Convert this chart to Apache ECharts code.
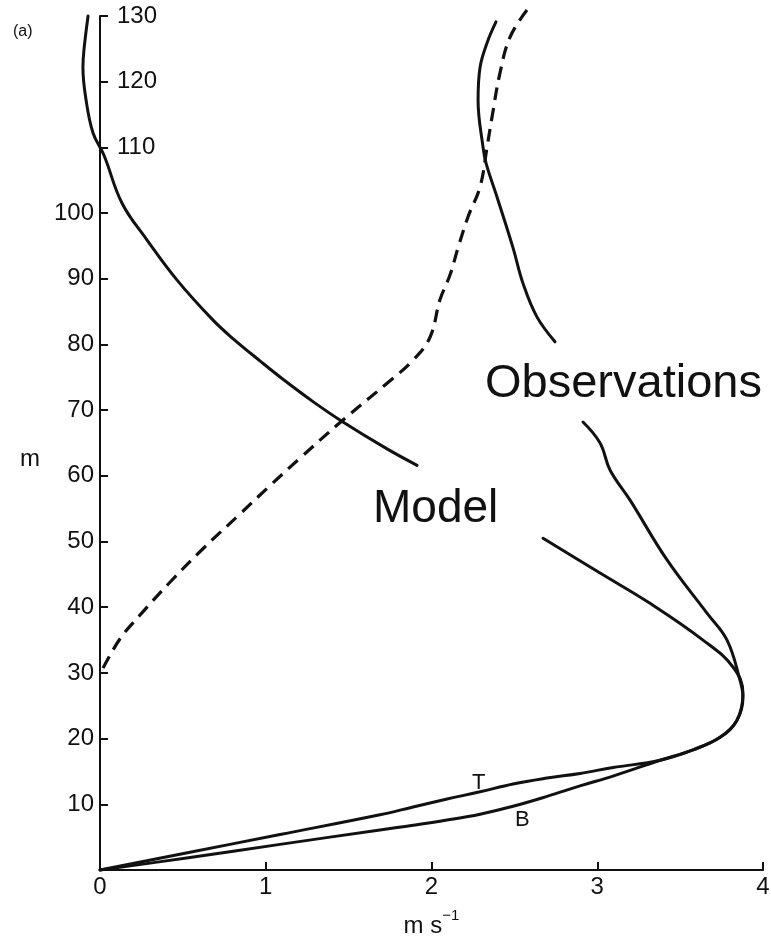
<!DOCTYPE html>
<html>
<head>
<meta charset="utf-8">
<script src="https://cdn.jsdelivr.net/npm/echarts@6/dist/echarts.min.js"></script>
<style>
html, body { margin: 0; padding: 0; background: #ffffff; overflow: hidden; }
#chart { width: 771px; height: 937px; }
</style>
</head>
<body>
<div id="chart"></div>
<script>
// Axis ticks
const xTickValues = [0, 1, 2, 3, 4];
const yLabelsLeft = [10, 20, 30, 40, 50, 60, 70, 80, 90, 100];
const yLabelsRight = [110, 120, 130];

// Model curve [speed m/s, height m] — split where the "Model" label interrupts it
const modelUpper = [
  [-0.072, 130.0], [-0.097, 124.8], [-0.103, 122.2], [-0.084, 117.2], [-0.042, 112.2],
  [0.024, 108.8], [0.133, 101.5], [0.284, 95.9], [0.465, 89.8], [0.682, 83.7],
  [0.802, 80.9], [0.965, 77.5], [1.104, 74.7], [1.285, 71.3], [1.466, 68.2],
  [1.732, 64.1], [1.913, 61.6]
];
const modelLower = [
  [2.673, 50.5], [3.017, 45.2], [3.318, 40.6], [3.638, 35.0], [3.819, 30.9],
  [3.879, 26.9], [3.843, 22.8], [3.741, 20.2], [3.578, 18.3], [3.379, 16.7],
  [3.095, 14.3], [2.896, 12.8], [2.697, 11.2], [2.492, 9.7], [2.293, 8.5],
  [2.094, 7.6], [1.889, 6.8], [1.689, 6.1], [1.086, 3.9], [0.543, 1.9], [0.000, 0.0]
];

// Observations curve — split where the "Observations" label interrupts it
const obsUpper = [
  [2.389, 129.1], [2.335, 125.9], [2.293, 122.2], [2.281, 117.2], [2.311, 110.0],
  [2.329, 107.6], [2.401, 102.0], [2.492, 94.7], [2.552, 89.3], [2.636, 84.2],
  [2.745, 80.4]
];
const obsLower = [
  [2.914, 68.2], [3.017, 65.0], [3.077, 60.9], [3.198, 56.3], [3.421, 47.2],
  [3.662, 39.1], [3.783, 35.0], [3.861, 28.9], [3.879, 26.3], [3.843, 22.8],
  [3.741, 20.2], [3.578, 18.3], [3.379, 16.7], [3.095, 15.6], [2.896, 14.7],
  [2.697, 14.0], [2.492, 13.1], [2.293, 11.9], [2.094, 10.8], [1.889, 9.6],
  [1.689, 8.4], [1.086, 5.4], [0.543, 2.7], [0.000, 0.0]
];

// Dashed curve
const dashedCurve = [
  [2.576, 130.9], [2.474, 126.8], [2.413, 121.3], [2.365, 114.6], [2.335, 110.0],
  [2.293, 104.0], [2.220, 99.4], [2.160, 94.7], [2.112, 90.6], [2.051, 86.8],
  [1.991, 81.1], [1.888, 77.6], [1.732, 74.1], [1.466, 68.5], [1.207, 62.7],
  [1.008, 58.1], [0.845, 54.2], [0.621, 48.9], [0.422, 43.8], [0.241, 38.8],
  [0.121, 35.2], [0.018, 30.7]
];

const FONT = 'Liberation Sans, Arial, Helvetica, sans-serif';
const INK = '#111111';

const chart = echarts.init(document.getElementById('chart'), null, { renderer: 'canvas' });

function solid(name, data) {
  return {
    name: name, type: 'line', data: data, symbol: 'none', smooth: 0.4,
    xAxisIndex: 1, yAxisIndex: 2, clip: false, silent: true,
    lineStyle: { color: INK, width: 3, type: 'solid', cap: 'round', join: 'round' }
  };
}

// Plot grid (visible axes) spans 0..4; a data grid extends slightly left of the
// y axis (to -0.2) so the Model curve can bend past the axis near the top.
const PLOT_LEFT = 100, PLOT_RIGHT = 8, PLOT_TOP = 16, PLOT_BOTTOM = 67;
const X_MIN_DATA = -0.2;
const unitPx = (771 - PLOT_LEFT - PLOT_RIGHT) / 4;

const option = {
  animation: false,
  backgroundColor: '#ffffff',
  title: {
    text: '(a)', left: 8, top: 19,
    textStyle: { fontFamily: FONT, fontSize: 16, fontWeight: 'normal', color: INK }
  },
  grid: [
    { left: PLOT_LEFT, right: PLOT_RIGHT, top: PLOT_TOP, bottom: PLOT_BOTTOM,
      containLabel: false, outerBoundsMode: 'none' },
    { left: PLOT_LEFT + X_MIN_DATA * unitPx, right: PLOT_RIGHT, top: PLOT_TOP, bottom: PLOT_BOTTOM,
      containLabel: false, outerBoundsMode: 'none' }
  ],
  xAxis: [
    {
      gridIndex: 0, type: 'value', min: 0, max: 4, interval: 1,
      axisLine: { show: true, onZero: false, lineStyle: { color: INK, width: 2 } },
      axisTick: { show: true, inside: true, length: 8, lineStyle: { color: INK, width: 2 } },
      axisLabel: {
        fontFamily: FONT, fontSize: 24, color: INK, margin: 5,
        showMinLabel: true, showMaxLabel: true,
        formatter: function (v) { return xTickValues.indexOf(v) >= 0 ? String(v) : ''; }
      },
      splitLine: { show: false },
      name: '{a|m s}{b|−1}',
      nameLocation: 'middle', nameGap: 38,
      nameTextStyle: {
        fontFamily: FONT, color: INK,
        rich: {
          a: { fontFamily: FONT, fontSize: 24, color: INK, lineHeight: 30, verticalAlign: 'bottom' },
          b: { fontFamily: FONT, fontSize: 15, color: INK, lineHeight: 30, verticalAlign: 'top' }
        }
      }
    },
    {
      gridIndex: 1, type: 'value', min: X_MIN_DATA, max: 4,
      show: false, axisLine: { show: false }, axisTick: { show: false },
      axisLabel: { show: false }, splitLine: { show: false }
    }
  ],
  yAxis: [
    {
      gridIndex: 0, type: 'value', min: 0, max: 130, interval: 10,
      axisLine: { show: true, onZero: false, lineStyle: { color: INK, width: 2 } },
      axisTick: { show: true, inside: true, length: 8, lineStyle: { color: INK, width: 2 } },
      axisLabel: {
        fontFamily: FONT, fontSize: 24, color: INK, margin: 6,
        formatter: function (v) { return yLabelsLeft.indexOf(v) >= 0 ? String(v) : ''; }
      },
      splitLine: { show: false }
    },
    {
      gridIndex: 0, type: 'value', min: 0, max: 130, interval: 10, position: 'left',
      axisLine: { show: false }, axisTick: { show: false },
      axisLabel: {
        inside: true, fontFamily: FONT, fontSize: 24, color: INK, margin: 17,
        showMaxLabel: true,
        formatter: function (v) { return yLabelsRight.indexOf(v) >= 0 ? String(v) : ''; }
      },
      splitLine: { show: false }
    },
    {
      gridIndex: 1, type: 'value', min: 0, max: 130,
      show: false, axisLine: { show: false }, axisTick: { show: false },
      axisLabel: { show: false }, splitLine: { show: false }
    }
  ],
  series: [
    solid('Model', modelUpper),
    solid('Model', modelLower),
    solid('Observations', obsUpper),
    solid('Observations', obsLower),
    {
      name: 'Dashed', type: 'line', data: dashedCurve, symbol: 'none', smooth: 0.4,
      xAxisIndex: 1, yAxisIndex: 2, clip: false, silent: true,
      lineStyle: { color: INK, width: 3.2, type: [13, 8], cap: 'butt' }
    }
  ],
  graphic: [
    { type: 'text', left: 20, top: 447, style: { text: 'm', font: '24px ' + FONT, fill: INK } },
    { type: 'text', left: 485, top: 361, style: { text: 'Observations', font: '47px ' + FONT, fill: INK } },
    { type: 'text', left: 373, top: 486, style: { text: 'Model', font: '46px ' + FONT, fill: INK } },
    { type: 'text', left: 472, top: 772, style: { text: 'T', font: '22px ' + FONT, fill: INK } },
    { type: 'text', left: 515, top: 809, style: { text: 'B', font: '22px ' + FONT, fill: INK } }
  ]
};

chart.setOption(option);
</script>
</body>
</html>
